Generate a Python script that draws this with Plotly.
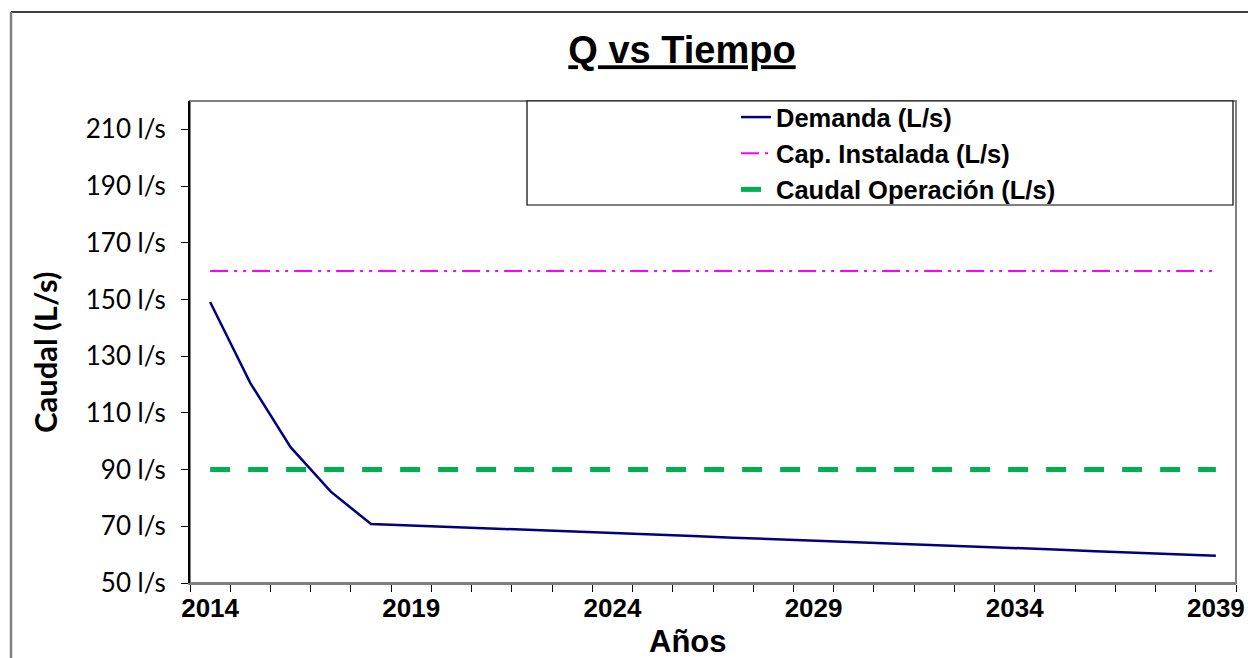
import plotly.graph_objects as go

years = [2014, 2015, 2016, 2017, 2018, 2019, 2020, 2021, 2022, 2023, 2024, 2025, 2026,
         2027, 2028, 2029, 2030, 2031, 2032, 2033, 2034, 2035, 2036, 2037, 2038, 2039]
demanda = [149.1, 120.5, 97.9, 82.2, 70.8, 70.3, 69.8, 69.3, 68.7, 68.2, 67.7, 67.1, 66.6,
           66.0, 65.5, 64.9, 64.4, 63.9, 63.4, 62.8, 62.3, 61.8, 61.2, 60.7, 60.2, 59.6]
cap_instalada = [160, 160, 160, 160, 160, 160, 160, 160, 160, 160, 160, 160, 160,
                 160, 160, 160, 160, 160, 160, 160, 160, 160, 160, 160, 160, 160]
caudal_operacion = [90, 90, 90, 90, 90, 90, 90, 90, 90, 90, 90, 90, 90,
                    90, 90, 90, 90, 90, 90, 90, 90, 90, 90, 90, 90, 90]
x_label_years = [2014, 2019, 2024, 2029, 2034, 2039]
y_ticks = [50, 70, 90, 110, 130, 150, 170, 190, 210]
y_tick_labels = ["50 l/s", "70 l/s", "90 l/s", "110 l/s", "130 l/s", "150 l/s",
                 "170 l/s", "190 l/s", "210 l/s"]
boundaries = [y - 0.5 for y in years] + [years[-1] + 0.5]

ARIAL = "Arial, Liberation Sans, sans-serif"
CAL = "Lato, Carlito, Calibri, sans-serif"

fig = go.Figure()
fig.add_trace(go.Scatter(x=years, y=demanda, mode="lines", name="Demanda (L/s)",
                         line=dict(color="#000080", width=2.5)))
fig.add_trace(go.Scatter(x=years, y=cap_instalada, mode="lines", name="Cap. Instalada (L/s)",
                         line=dict(color="#FF00FF", width=2, dash="18px,6px,3px,6px,3px,6px")))
fig.add_trace(go.Scatter(x=years, y=caudal_operacion, mode="lines", name="Caudal Operación (L/s)",
                         line=dict(color="#00B050", width=5, dash="20px,18px")))

L, R, T, B = 190, 12, 101, 75
W, H = 1248, 658
pw, ph = W - L - R, H - T - B

def px_x(p):
    return (p - L) / pw

def px_y(p):
    return (H - B - p) / ph

fig.update_layout(
    width=W, height=H,
    margin=dict(l=L, r=R, t=T, b=B, autoexpand=False),
    paper_bgcolor="white", plot_bgcolor="white",
    showlegend=True,
    title=dict(text="<u><b>Q vs Tiempo</b></u>", x=682 / W, xanchor="center",
               y=1 - 50 / H, yanchor="middle",
               font=dict(family=ARIAL, size=38, color="black")),
    legend=dict(x=px_x(736), xanchor="left", y=px_y(94), yanchor="top",
                bgcolor="rgba(0,0,0,0)", borderwidth=0,
                font=dict(family=ARIAL, size=25.5, color="black", weight="bold"),
                tracegroupgap=0),
    xaxis=dict(range=[boundaries[0], boundaries[-1]], tickmode="array", automargin=False,
               tickvals=x_label_years, ticktext=[f"<b>{y}</b>" for y in x_label_years],
               ticks="outside", ticklen=1, tickcolor="rgba(0,0,0,0)",
               tickfont=dict(family=ARIAL, size=26, color="black"),
               minor=dict(tickmode="array", tickvals=boundaries, ticks="outside",
                          ticklen=7, tickcolor="black", tickwidth=1, showgrid=False),
               showgrid=False, zeroline=False, showline=True, linecolor="#808080",
               linewidth=2),
    yaxis=dict(range=[50, 220], tickmode="array", tickvals=y_ticks, ticktext=y_tick_labels,
               automargin=False, ticklabelstandoff=10,
               ticks="outside", ticklen=7, tickcolor="black",
               tickfont=dict(family=CAL, size=26, color="black"),
               showgrid=False, zeroline=False, showline=True, linecolor="black",
               linewidth=2),
)

# plot area border
fig.add_shape(type="rect", xref="paper", yref="paper", x0=0, x1=1, y0=0, y1=1,
              line=dict(color="#808080", width=2), layer="below")
# outer chart border
fig.add_shape(type="line", xref="paper", yref="paper", x0=px_x(11), x1=1.05,
              y0=px_y(12), y1=px_y(12), line=dict(color="black", width=1.5))
fig.add_shape(type="line", xref="paper", yref="paper", x0=px_x(11), x1=px_x(11),
              y0=px_y(12), y1=-0.3, line=dict(color="#808080", width=2.5))
# legend box
fig.add_shape(type="rect", xref="paper", yref="paper", x0=px_x(527), x1=px_x(1233),
              y0=px_y(205), y1=px_y(101), line=dict(color="black", width=1.2),
              fillcolor="white", layer="above")

fig.add_annotation(text="<b>Años</b>", xref="paper", yref="paper", x=px_x(688), y=px_y(641),
                   xanchor="center", yanchor="middle", showarrow=False,
                   font=dict(family=ARIAL, size=31, color="black"))
fig.add_annotation(text="<b>Caudal (L/s)</b>", xref="paper", yref="paper", x=px_x(45),
                   y=px_y(352), xanchor="center", yanchor="middle", showarrow=False,
                   textangle=-90, font=dict(family=CAL, size=31, color="black"))

fig.write_html("out.html", config={"displayModeBar": False},
               post_script="document.body.style.margin='0';document.body.style.padding='0';")
